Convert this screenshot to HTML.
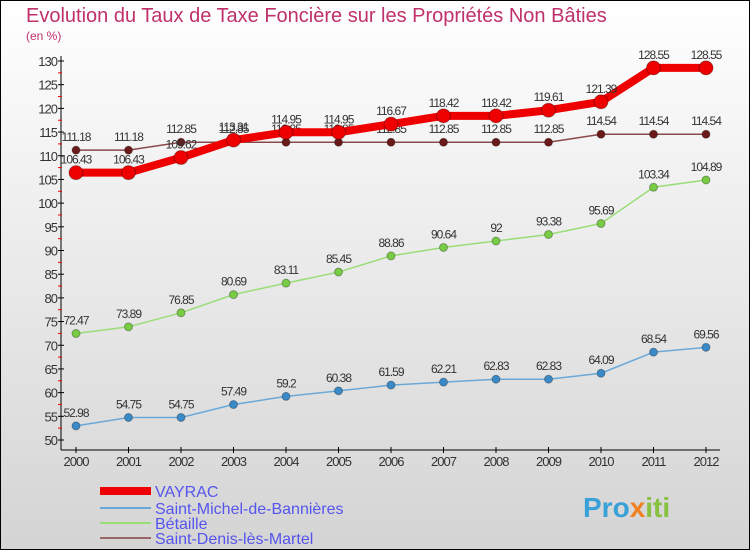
<!DOCTYPE html>
<html><head><meta charset="utf-8"><style>
body{margin:0;width:750px;height:550px;overflow:hidden;font-family:"Liberation Sans",sans-serif}
</style></head><body>
<svg width="750" height="550" xmlns="http://www.w3.org/2000/svg">
<defs><linearGradient id="bg" x1="0" y1="0" x2="0" y2="1"><stop offset="0" stop-color="#ffffff"/><stop offset="1" stop-color="#d4d4d4"/></linearGradient></defs>
<rect x="0.5" y="0.5" width="749" height="549" fill="url(#bg)" stroke="#000"/>
<text x="26" y="22" font-size="20" fill="#c0306a">Evolution du Taux de Taxe Foncière sur les Propriétés Non Bâties</text>
<text x="26" y="40" font-size="12" fill="#c0306a">(en %)</text>
<g id="axes"></g>
<g id="series"></g>
<g id="legend"></g>
<text x="583" y="517" font-size="28" font-weight="bold" fill="#3aa0d8">Pro<tspan fill="#f08020">x</tspan><tspan fill="#88c040">iti</tspan></text>
</svg>
<script>
const years=["2000","2001","2002","2003","2004","2005","2006","2007","2008","2009","2010","2011","2012"];
const vayrac=[106.43,106.43,109.62,113.31,114.95,114.95,116.67,118.42,118.42,119.61,121.39,128.55,128.55];
const michel=[52.98,54.75,54.75,57.49,59.2,60.38,61.59,62.21,62.83,62.83,64.09,68.54,69.56];
const betaille=[72.47,73.89,76.85,80.69,83.11,85.45,88.86,90.64,92,93.38,95.69,103.34,104.89];
const denis=[111.18,111.18,112.85,112.85,112.85,112.85,112.85,112.85,112.85,112.85,114.54,114.54,114.54];
const yTicks=[50,55,60,65,70,75,80,85,90,95,100,105,110,115,120,125,130];
const names=["VAYRAC","Saint-Michel-de-Bannières","Bétaille","Saint-Denis-lès-Martel"];
const NS="http://www.w3.org/2000/svg";
const xs=i=>76+i*52.5;
const ys=v=>440-(v-50)*(379/80);
function mk(t,a,p){const e=document.createElementNS(NS,t);for(const k in a)e.setAttribute(k,a[k]);p.appendChild(e);return e;}
const ax=document.getElementById('axes');
let l=mk('line',{x1:61,y1:56,x2:61,y2:450,stroke:'#000'},ax);


l=mk('line',{x1:61,y1:450,x2:720,y2:450,stroke:'#000'},ax);


yTicks.forEach(v=>{const y=ys(v);
 mk('line',{x1:58,y1:y,x2:64,y2:y,stroke:'#000'},ax);
 if(v<130)mk('line',{x1:58,y1:ys(v+2.5),x2:62,y2:ys(v+2.5),stroke:'#e00'},ax);
 const t=mk('text',{x:57,y:y+5,'font-size':13,'text-anchor':'end',fill:'#333','letter-spacing':'-1'},ax);t.textContent=v;
 
 });
years.forEach((yr,i)=>{const x=xs(i);
 mk('line',{x1:x,y1:447,x2:x,y2:453,stroke:'#000'},ax);
 const t=mk('text',{x:x,y:466,'font-size':13,'text-anchor':'middle',fill:'#333','letter-spacing':'-1'},ax);t.textContent=yr;
 
 });
const sg=document.getElementById('series');
function draw(data,color,dot,w,r,name){
 const g=mk('g',{},sg);
 
 
 mk('polyline',{points:data.map((v,i)=>xs(i)+','+ys(v)).join(' '),fill:'none',stroke:color,'stroke-width':w,'stroke-linejoin':'round'},g);
 data.forEach((v,i)=>{const c=mk('circle',{cx:xs(i),cy:ys(v),r:r,fill:dot,stroke:'rgba(0,0,0,0.3)'},g);
  
  
  const t=mk('text',{x:xs(i),y:ys(v)-9,'font-size':12,'text-anchor':'middle',fill:'#333','letter-spacing':'-1'},g);t.textContent=v;});
}
draw(michel,'#6aa8d8','#3a8ac8',1.5,4,'series-saint-michel');
draw(betaille,'#99dd77','#77cc44',1.5,4,'series-betaille');
draw(denis,'#8b4a4a','#6a1a1a',1.5,4,'series-saint-denis');
draw(vayrac,'#ee0000','#ee0000',8,7,'series-vayrac');
const lg=document.getElementById('legend');
const cols=['#ee0000','#6aa8d8','#99dd77','#996666'],ws=[8,2,2,2],ly=[491,508,523,538];
names.forEach((n,i)=>{const g=mk('g',{},lg);
 
 
 mk('line',{x1:100,y1:ly[i],x2:151,y2:ly[i],stroke:cols[i],'stroke-width':ws[i]},g);
 const t=mk('text',{x:155,y:ly[i]+6,'font-size':16,fill:'#5555ee'},g);t.textContent=n;});
</script>
</body></html>
